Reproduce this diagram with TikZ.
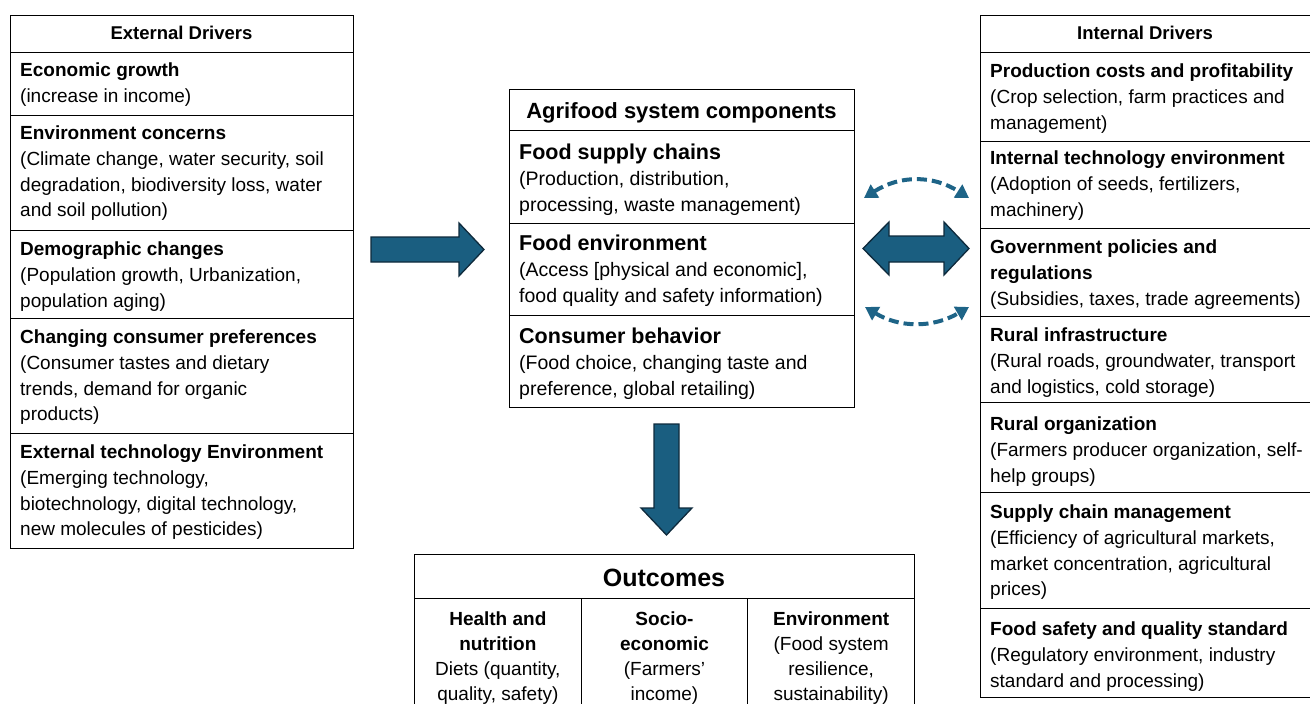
\documentclass[tikz,border=0pt]{standalone}
\usepackage{fontspec}
\setmainfont{Liberation Sans}
\usetikzlibrary{arrows.meta}
\definecolor{abl}{RGB}{26,94,128}
\definecolor{abd}{RGB}{14,42,60}
\definecolor{dbl}{RGB}{30,100,135}
\newcommand\vlines[2]{\vtop{\hsize=#1\parindent=0pt\parskip=0pt\relax #2}}
\newcommand\ttl[1]{{\bfseries #1\par}}
\newcommand\bigttl[1]{{\fontsize{21.5}{26}\selectfont\bfseries #1\par}}
\tikzset{
  box/.style={draw=black, line width=1pt, anchor=north west, inner sep=0pt},
  txt/.style={anchor=base west, inner sep=0pt, font=\fontsize{19}{25.8}\selectfont},
  ctxt/.style={anchor=base, inner sep=0pt, font=\fontsize{19}{25}\selectfont},
  hdr/.style={anchor=base, inner sep=0pt, font=\fontsize{18.5}{22}\selectfont\bfseries},
  blockarrow/.style={fill=abl, draw=abd, line width=1.3pt, line join=miter},
  dasharrow/.style={draw=dbl, line width=4pt, dash pattern=on 10pt off 5pt,
    {Triangle[length=13pt,width=15pt]}-{Triangle[length=13pt,width=15pt]}}
}
\begin{document}
\begin{tikzpicture}[x=1pt,y=-1pt]
\useasboundingbox (0,0) rectangle (1310,704);
% ---------------- External drivers
\node[box, minimum width=343pt, minimum height=37pt] (eh) at (10,15) {};
\node[hdr] (ehT) at ([shift={(171.5,24)}]eh.north west) {External Drivers};
\node[box, minimum width=343pt, minimum height=63pt] (e1) at (10,52) {};
\node[txt] (e1T) at ([shift={(10,24.5)}]e1.north west) {\vlines{330pt}{\ttl{Economic growth}(increase in income)}};
\node[box, minimum width=343pt, minimum height=115pt] (e2) at (10,115) {};
\node[txt] (e2T) at ([shift={(10,24.5)}]e2.north west) {\vlines{330pt}{\ttl{Environment concerns}(Climate change, water security, soil\par degradation, biodiversity loss, water\par and soil pollution)}};
\node[box, minimum width=343pt, minimum height=88pt] (e3) at (10,230) {};
\node[txt] (e3T) at ([shift={(10,25.5)}]e3.north west) {\vlines{330pt}{\ttl{Demographic changes}(Population growth, Urbanization,\par population aging)}};
\node[box, minimum width=343pt, minimum height=115pt] (e4) at (10,318) {};
\node[txt] (e4T) at ([shift={(10,25.5)}]e4.north west) {\vlines{330pt}{\ttl{Changing consumer preferences}(Consumer tastes and dietary\par trends, demand for organic\par products)}};
\node[box, minimum width=343pt, minimum height=115pt] (e5) at (10,433) {};
\node[txt] (e5T) at ([shift={(10,25.5)}]e5.north west) {\vlines{330pt}{\ttl{External technology Environment}(Emerging technology,\par biotechnology, digital technology,\par new molecules of pesticides)}};
% ---------------- Agrifood system components
\node[box, minimum width=345pt, minimum height=41pt] (ch) at (509,89) {};
\node[hdr, font=\fontsize{22}{24}\selectfont\bfseries] (chT) at ([shift={(172.5,29)}]ch.north west) {Agrifood system components};
\node[box, minimum width=345pt, minimum height=93pt] (c1) at (509,130) {};
\node[txt, font=\fontsize{19.5}{26}\selectfont] (c1T) at ([shift={(10,29.5)}]c1.north west) {\vlines{340pt}{\bigttl{Food supply chains}(Production, distribution,\par processing, waste management)}};
\node[box, minimum width=345pt, minimum height=92pt] (c2) at (509,223) {};
\node[txt, font=\fontsize{19.5}{26}\selectfont] (c2T) at ([shift={(10,27.5)}]c2.north west) {\vlines{340pt}{\bigttl{Food environment}(Access [physical and economic],\par food quality and safety information)}};
\node[box, minimum width=345pt, minimum height=92pt] (c3) at (509,315) {};
\node[txt, font=\fontsize{19.5}{26}\selectfont] (c3T) at ([shift={(10,28.5)}]c3.north west) {\vlines{340pt}{\bigttl{Consumer behavior}(Food choice, changing taste and\par preference, global retailing)}};
% ---------------- Internal drivers
\node[box, minimum width=331pt, minimum height=37pt] (ih) at (980,15) {};
\node[hdr] (ihT) at ([shift={(165,24)}]ih.north west) {Internal Drivers};
\node[box, minimum width=331pt, minimum height=89pt] (i1) at (980,52) {};
\node[txt] (i1T) at ([shift={(10,25.5)}]i1.north west) {\vlines{325pt}{\ttl{Production costs and profitability}(Crop selection, farm practices and\par management)}};
\node[box, minimum width=331pt, minimum height=87pt] (i2) at (980,141) {};
\node[txt] (i2T) at ([shift={(10,23.5)}]i2.north west) {\vlines{325pt}{\ttl{Internal technology environment}(Adoption of seeds, fertilizers,\par machinery)}};
\node[box, minimum width=331pt, minimum height=88pt] (i3) at (980,228) {};
\node[txt] (i3T) at ([shift={(10,25.5)}]i3.north west) {\vlines{325pt}{\ttl{Government policies and}\ttl{regulations}(Subsidies, taxes, trade agreements)}};
\node[box, minimum width=331pt, minimum height=86pt] (i4) at (980,316) {};
\node[txt] (i4T) at ([shift={(10,25.5)}]i4.north west) {\vlines{325pt}{\ttl{Rural infrastructure}(Rural roads, groundwater, transport\par and logistics, cold storage)}};
\node[box, minimum width=331pt, minimum height=90pt] (i5) at (980,402) {};
\node[txt] (i5T) at ([shift={(10,28.5)}]i5.north west) {\vlines{325pt}{\ttl{Rural organization}(Farmers producer organization, self-\par help groups)}};
\node[box, minimum width=331pt, minimum height=116pt] (i6) at (980,492) {};
\node[txt] (i6T) at ([shift={(10,26.5)}]i6.north west) {\vlines{325pt}{\ttl{Supply chain management}(Efficiency of agricultural markets,\par market concentration, agricultural\par prices)}};
\node[box, minimum width=331pt, minimum height=89pt] (i7) at (980,608) {};
\node[txt] (i7T) at ([shift={(10,27.5)}]i7.north west) {\vlines{325pt}{\ttl{Food safety and quality standard}(Regulatory environment, industry\par standard and processing)}};
% ---------------- Outcomes
\node[box, minimum width=500pt, minimum height=44pt] (oh) at (414,554) {};
\node[hdr, font=\fontsize{25}{28}\selectfont\bfseries] (ohT) at ([shift={(250,32)}]oh.north west) {Outcomes};
\node[box, minimum width=166.7pt, minimum height=110pt] (o1) at (414,598) {};
\node[box, minimum width=166.6pt, minimum height=110pt] (o2) at (580.7,598) {};
\node[box, minimum width=166.7pt, minimum height=110pt] (o3) at (747.3,598) {};
\node[ctxt] (o1T) at ([shift={(0,27.5)}]o1.north) {\vlines{164pt}{\centering\ttl{Health and}\ttl{nutrition}Diets (quantity,\par quality, safety)\par}};
\node[ctxt] (o2T) at ([shift={(0,27.5)}]o2.north) {\vlines{164pt}{\centering\ttl{Socio-}\ttl{economic}(Farmers’\par income)\par}};
\node[ctxt] (o3T) at ([shift={(0,27.5)}]o3.north) {\vlines{164pt}{\centering\ttl{Environment}(Food system\par resilience,\par sustainability)\par}};
% ---------------- Arrows
\draw[blockarrow] (371,237) -- (459,237) -- (459,223) -- (484,249.5) -- (459,276) -- (459,262) -- (371,262) -- cycle;
\draw[blockarrow] (654,424) -- (679,424) -- (679,508) -- (692,508) -- (666.5,535) -- (641,508) -- (654,508) -- cycle;
\draw[blockarrow] (863,248.5) -- (889,222) -- (889,236) -- (944,236) -- (944,222) -- (969,248.5) -- (944,275) -- (944,262) -- (889,262) -- (889,275) -- cycle;
\draw[dasharrow] (864,198) .. controls (900,175) and (933,175) .. (969,198);
\draw[dasharrow] (865,307) .. controls (900,328) and (933,328) .. (969,307);
\end{tikzpicture}
\end{document}
